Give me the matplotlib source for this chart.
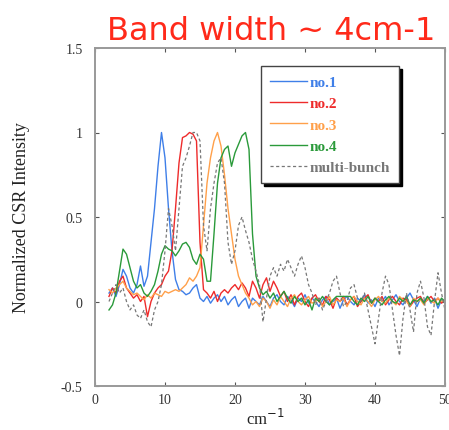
import numpy as np
import matplotlib
matplotlib.use("Agg")
import matplotlib.pyplot as plt

# wavenumber grid (cm^-1), 0.5 step from 2 to 50
wavenumber = np.arange(2.0, 50.01, 0.5)

no1 = [0.05, 0.08, 0.03, 0.10, 0.19, 0.15, 0.08, 0.05, 0.10, 0.21,
       0.09, 0.15, 0.35, 0.55, 0.80, 1.00, 0.85, 0.55, 0.30, 0.13,
       0.07, 0.06, 0.04, 0.05, 0.08, 0.10, 0.02, 0.00, 0.03, -0.01,
       0.02, 0.04, 0.00, 0.03, -0.02, 0.01, 0.03, -0.03, 0.00, 0.02,
       -0.04, 0.02, 0.00, -0.02, 0.03, 0.00, -0.03, 0.02, 0.04, 0.00,
       -0.02, 0.03, 0.01, -0.03, 0.02, 0.00, 0.04, -0.01, 0.02, 0.00,
       -0.03, 0.01, 0.03, -0.02, 0.00, 0.02, -0.04, 0.01, 0.03, 0.00,
       -0.02, 0.02, 0.00, 0.04, -0.01, 0.01, -0.03, 0.02, 0.00, 0.03,
       -0.02, 0.01, 0.04, 0.00, -0.02, 0.02, 0.05, 0.01, -0.03, 0.02,
       0.00, 0.03, -0.01, 0.02, -0.04, 0.01, 0.00]

no2 = [0.03, 0.08, 0.05, 0.12, 0.15, 0.08, 0.05, 0.02, 0.04, 0.00,
       0.03, -0.09, 0.00, 0.05, 0.08, 0.10, 0.15, 0.18, 0.30, 0.55,
       0.82, 0.97, 0.98, 1.00, 0.99, 0.95, 0.35, 0.07, 0.05, 0.02,
       0.06, 0.00, 0.05, 0.07, 0.05, 0.08, 0.10, 0.07, 0.11, 0.08,
       0.03, 0.12, 0.08, 0.02, 0.10, 0.14, 0.06, 0.12, 0.08, 0.03,
       0.06, 0.00, 0.04, -0.02, 0.03, 0.05, 0.00, -0.03, 0.02, 0.04,
       0.00, -0.02, 0.03, 0.01, -0.04, 0.02, 0.00, 0.03, -0.02, 0.01,
       0.03, -0.03, 0.00, 0.02, 0.04, -0.01, 0.02, 0.00, 0.03, -0.02,
       0.01, 0.03, 0.00, -0.02, 0.02, 0.01, -0.03, 0.00, 0.02, 0.03,
       -0.01, 0.01, 0.03, 0.00, 0.02, -0.01, 0.01]

no3 = [0.07, 0.05, 0.08, 0.10, 0.12, 0.08, 0.06, 0.04, 0.05, 0.03,
       0.01, 0.04, 0.02, 0.05, 0.04, 0.03, 0.06, 0.05, 0.06, 0.07,
       0.06, 0.08, 0.10, 0.14, 0.12, 0.15, 0.20, 0.45, 0.70, 0.85,
       0.95, 1.00, 0.92, 0.75, 0.55, 0.40, 0.25, 0.15, 0.10, 0.05,
       0.02, -0.02, 0.00, -0.03, 0.02, 0.00, -0.04, 0.01, -0.02, 0.03,
       0.00, -0.03, 0.02, 0.04, 0.00, -0.02, 0.01, 0.03, -0.01, 0.00,
       0.02, -0.03, 0.00, 0.03, -0.02, 0.01, 0.00, 0.02, -0.03, 0.01,
       0.03, 0.00, -0.02, 0.02, 0.00, -0.03, 0.01, 0.03, 0.00, -0.01,
       0.02, 0.00, -0.02, 0.03, 0.01, 0.00, -0.03, 0.02, 0.00, 0.01,
       -0.02, 0.02, 0.00, -0.01, 0.02, 0.00, 0.01]

no4 = [-0.05, -0.02, 0.05, 0.18, 0.31, 0.28, 0.20, 0.12, 0.08, 0.10,
       0.05, 0.03, 0.06, 0.10, 0.18, 0.28, 0.33, 0.31, 0.30, 0.27,
       0.30, 0.34, 0.35, 0.32, 0.25, 0.22, 0.28, 0.25, 0.12, 0.12,
       0.40, 0.70, 0.85, 0.90, 0.92, 0.80, 0.88, 0.93, 0.98, 1.00,
       0.90, 0.40, 0.15, 0.08, 0.04, 0.06, 0.02, 0.05, 0.00, 0.03,
       0.06, 0.02, -0.01, 0.03, 0.00, 0.02, -0.02, 0.01, -0.05, 0.02,
       0.00, 0.03, 0.00, -0.02, 0.01, 0.03, 0.03, 0.03, 0.03, 0.03,
       0.00, -0.02, 0.02, 0.00, 0.03, -0.01, 0.02, 0.00, -0.02, 0.01,
       0.03, 0.00, -0.01, 0.02, 0.00, 0.03, -0.02, 0.01, 0.00, 0.02,
       -0.01, 0.03, 0.00, 0.01, -0.02, 0.02, 0.00]

multi_bunch = [0.00, 0.05, 0.10, 0.05, 0.08, 0.00, -0.05, -0.02, -0.08, -0.10,
               -0.05, -0.12, -0.15, -0.05, 0.00, 0.10, 0.30, 0.55, 0.45, 0.30,
               0.55, 0.80, 0.85, 0.92, 1.00, 1.00, 0.95, 0.45, 0.30, 0.55,
               0.70, 0.82, 0.85, 0.70, 0.35, 0.22, 0.30, 0.45, 0.50, 0.42,
               0.35, 0.25, 0.18, 0.10, -0.12, 0.02, 0.15, 0.20, 0.15, 0.22,
               0.18, 0.25, 0.20, 0.15, 0.22, 0.27, 0.20, 0.10, 0.05, -0.02,
               0.02, -0.05, 0.00, 0.05, 0.12, 0.15, 0.05, -0.03, 0.00, 0.08,
               0.10, 0.02, 0.00, 0.05, -0.05, -0.15, -0.25, -0.10, 0.05, 0.15,
               0.10, -0.05, -0.20, -0.32, -0.10, 0.05, -0.05, -0.18, 0.05, 0.12,
               0.02, -0.15, -0.20, 0.00, 0.17, 0.05, -0.05]

labels = ['no.1', 'no.2', 'no.3', 'no.4', 'multi-bunch']
colors = ['#3f7fe8', '#ee2b2b', '#ffa04a', '#2a9a3a', '#777777']

xticks = [0, 10, 20, 30, 40, 50]
yticks = [-0.5, 0, 0.5, 1, 1.5]
ytick_labels = ['-0.5', '0', '0.5', '1', '1.5']

serif = ['Liberation Serif', 'DejaVu Serif']

fig = plt.figure(figsize=(4.49, 4.31), dpi=100)
ax = fig.add_axes([95 / 449, 44 / 431, 350 / 449, 338 / 431])

series = [no1, no2, no3, no4]
for vals, lab, col in zip(series, labels[:4], colors[:4]):
    ax.plot(wavenumber, vals, color=col, linewidth=1.0, label=lab)
ax.plot(wavenumber, multi_bunch, color=colors[4], linewidth=0.9,
        linestyle=(0, (2.5, 2)), label=labels[4])

ax.set_xlim(0, 50)
ax.set_ylim(-0.5, 1.5)
ax.set_xticks(xticks)
ax.set_xticklabels([str(t) for t in xticks])
ax.set_yticks(yticks)
ax.set_yticklabels(ytick_labels)
ax.tick_params(direction='in', length=3, width=0.8, color='#555555',
               top=True, right=True, labelsize=10, labelcolor='#333333')
ax.tick_params(axis='y', pad=9)
ax.tick_params(axis='x', pad=5)
for lbl in ax.get_xticklabels() + ax.get_yticklabels():
    lbl.set_family(serif)
for sp in ax.spines.values():
    sp.set_color('#999999')
    sp.set_linewidth(1.4)

ax.set_xlabel('cm$^{-1}$', family=serif, fontsize=12, color='#222222')
ax.xaxis.set_label_coords(0.486, -0.065)
ax.set_ylabel('Normalized CSR Intensity', family=serif, fontsize=13,
              color='#222222', va='center')
ax.yaxis.set_label_coords(-0.21, 0.5)

leg = ax.legend(loc='upper left', bbox_to_anchor=(166 / 350, 1 - 18 / 338),
                fancybox=False, edgecolor='#444444', framealpha=1,
                shadow={'color': 'black', 'alpha': 1},
                prop={'family': serif, 'size': 11, 'weight': 'bold'},
                handlelength=2.4, handletextpad=0.2, labelspacing=0.5,
                borderpad=0.6, borderaxespad=0)
for txt, col in zip(leg.get_texts(), colors):
    txt.set_color(col)
leg.get_frame().set_linewidth(1.0)

fig.text(271 / 449, 1 - 40 / 431, 'Band width ~ 4cm-1', color='#ff2a1a',
         fontsize=23, ha='center', va='baseline', family='DejaVu Sans')

fig.savefig('out.png', dpi=100)
